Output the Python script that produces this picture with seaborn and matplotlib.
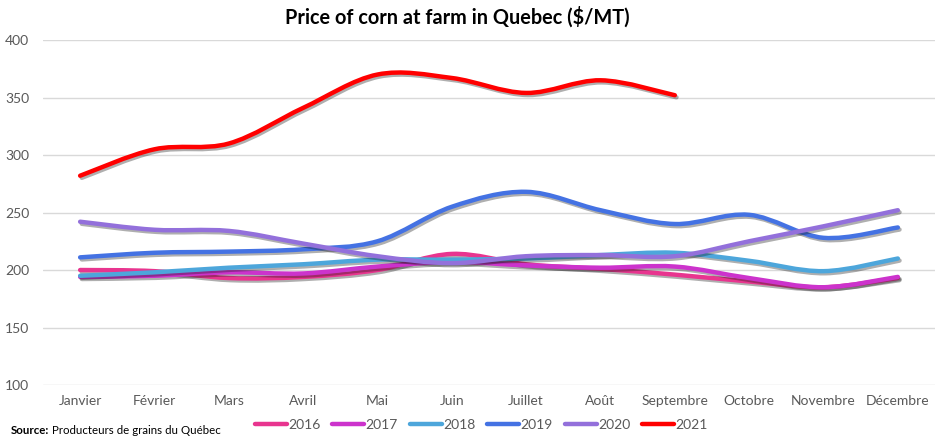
import numpy as np
import pandas as pd
import matplotlib
matplotlib.use("Agg")
import matplotlib.pyplot as plt
import matplotlib.patheffects as pe
from matplotlib.path import Path
from matplotlib.patches import PathPatch
from matplotlib.lines import Line2D
import seaborn as sns

months = ["Janvier", "Février", "Mars", "Avril", "Mai", "Juin", "Juillet",
          "Août", "Septembre", "Octobre", "Novembre", "Décembre"]
years = ["2016", "2017", "2018", "2019", "2020", "2021"]
p2016 = [200, 199, 193, 194, 200, 214, 205, 201, 196, 190, 185, 193]
p2017 = [194, 195, 198, 197, 203, 207, 204, 202, 203, 193, 185, 194]
p2018 = [195, 198, 202, 205, 209, 209, 210, 213, 215, 208, 199, 210]
p2019 = [211, 215, 216, 218, 225, 255, 268, 252, 240, 248, 228, 237]
p2020 = [242, 235, 234, 223, 212, 206, 212, 213, 212, 225, 238, 252]
p2021 = [282, 305, 310, 341, 370, 367, 354, 365, 352]
yticks = [100, 150, 200, 250, 300, 350, 400]
colors = ["#E8358F", "#CC33CC", "#4DA6DB", "#4472E3", "#9370DB", "#FF0000"]
series = [p2016, p2017, p2018, p2019, p2020, p2021]

rows = []
for yr, vals in zip(years, series):
    for i, v in enumerate(vals):
        rows.append({"idx": i, "month": months[i], "year": yr, "price": v})
df = pd.DataFrame(rows)

sns.set_theme(style="white")
plt.rcParams["font.family"] = ["Lato", "DejaVu Sans"]

fig = plt.figure(figsize=(9.4, 4.4), dpi=100)
ax = fig.add_axes([0.0457, 0.125, 0.949, 0.784])

# invisible seaborn layer sets the scales from the data
sns.lineplot(data=df, x="idx", y="price", hue="year", palette=colors,
             linewidth=0, legend=False, ax=ax)


def smooth_path(xs, ys):
    pts = np.column_stack([xs, ys]).astype(float)
    n = len(pts)
    verts = [pts[0]]
    codes = [Path.MOVETO]
    for i in range(n - 1):
        p0 = pts[i - 1] if i > 0 else pts[i]
        p1 = pts[i]
        p2 = pts[i + 1]
        p3 = pts[i + 2] if i + 2 < n else pts[i + 1]
        c1 = p1 + (p2 - p0) / 6.0
        c2 = p2 - (p3 - p1) / 6.0
        verts += [c1, c2, p2]
        codes += [Path.CURVE4] * 3
    return Path(verts, codes)


for k, (yr, col) in enumerate(zip(years, colors)):
    sub = df[df["year"] == yr]
    path = smooth_path(sub["idx"].values, sub["price"].values)
    patch = PathPatch(path, facecolor="none", edgecolor=col, lw=3.2,
                      capstyle="round", joinstyle="round", zorder=3 + k)
    patch.set_path_effects([pe.SimpleLineShadow(offset=(1.2, -1.5), shadow_color="k", alpha=0.35),
                            pe.Normal()])
    ax.add_patch(patch)

ax.set_xlim(-0.5, 11.5)
ax.set_ylim(100, 400)
ax.set_yticks(yticks)
ax.set_yticklabels([str(t) for t in yticks])
ax.set_xticks(range(len(months)))
ax.set_xticklabels(months)
ax.yaxis.grid(True, color="#D9D9D9", lw=1)
ax.xaxis.grid(False)
for s in ax.spines.values():
    s.set_visible(False)
ax.tick_params(axis="both", length=0, colors="#595959", labelsize=10)
ax.tick_params(axis="y", pad=10)
ax.tick_params(axis="x", pad=7)
ax.set_xlabel("")
ax.set_ylabel("")

fig.text(0.487, 0.962, "Price of corn at farm in Quebec ($/MT)", ha="center", va="center",
         fontsize=14.3, fontweight="bold", color="black")

handles = [Line2D([0], [0], color=c, lw=3.2, solid_capstyle="round") for c in colors]
leg = fig.legend(handles, years, loc="center", bbox_to_anchor=(0.512, 0.034), ncol=6,
                 frameon=False, fontsize=10, handlelength=2.3, handletextpad=0.1,
                 columnspacing=0.85, labelcolor="#595959")

src = fig.text(0.011, 0.022, "Source:", ha="left", va="center", fontsize=8.3, fontweight="bold",
               color="black")
ax.annotate(" Producteurs de grains du Québec", xy=(1, 0.5), xycoords=src,
            ha="left", va="center", fontsize=8.3, color="black", annotation_clip=False)

fig.savefig("out.png", dpi=100)
